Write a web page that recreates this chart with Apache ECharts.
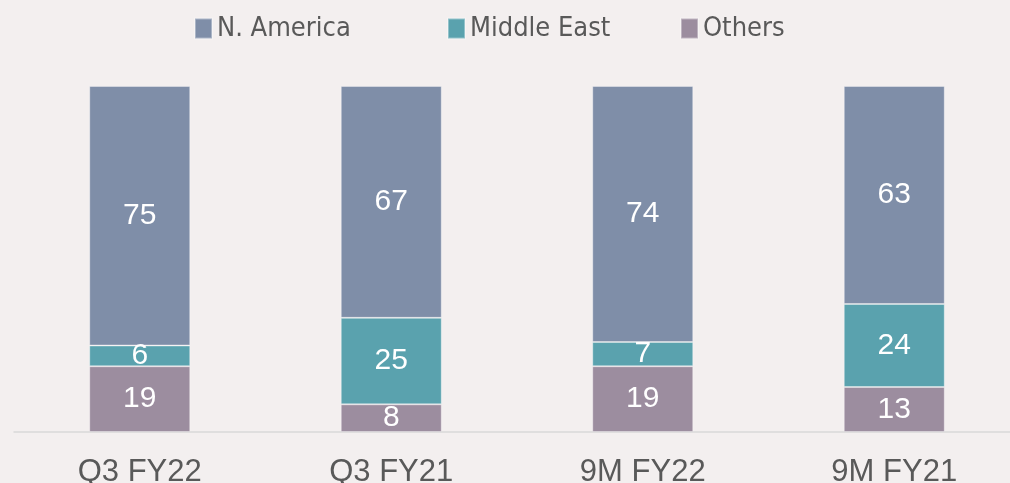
<!DOCTYPE html>
<html>
<head>
<meta charset="utf-8">
<script src="https://cdn.jsdelivr.net/npm/echarts@6/dist/echarts.min.js"></script>
<style>
  html, body { margin: 0; padding: 0; background: #f3efef; }
  #chart { width: 1010px; height: 483px; }
</style>
</head>
<body>
<div id="chart"></div>
<script>
// region split (%) per period
const categories = ['Q3 FY22', 'Q3 FY21', '9M FY22', '9M FY21']
const others = [19, 8, 19, 13]
const middleEast = [6, 25, 7, 24]
const nAmerica = [75, 67, 74, 63]

const colors = {
  nAmerica: '#7f8ea8',
  middleEast: '#5aa2ae',
  others: '#9c8d9f'
}

const chart = echarts.init(document.getElementById('chart'))

// one legend per item, the gaps in the original are uneven
function legendAt(name, left) {
  return {
    data: [name],
    left: left,
    top: 15,
    padding: 0,
    itemWidth: 17,
    itemHeight: 20,
    icon: 'rect',
    selectedMode: false,
    textStyle: {
      fontFamily: 'DejaVu Sans Condensed',
      fontSize: 27,
      color: '#595959'
    }
  }
}

function barSeries(name, data, color) {
  return {
    name: name,
    type: 'bar',
    stack: 'total',
    barWidth: 101,
    data: data,
    itemStyle: {
      color: color,
      borderColor: 'rgba(255,255,255,0.35)',
      borderWidth: 1
    },
    label: {
      show: true,
      position: 'inside',
      color: '#ffffff',
      fontFamily: 'Liberation Sans',
      fontSize: 30
    }
  }
}

chart.setOption({
  backgroundColor: '#f3efef',
  animation: false,
  legend: [
    legendAt('N. America', 194),
    legendAt('Middle East', 447),
    legendAt('Others', 680)
  ],
  grid: {
    left: 14,
    width: 1006,
    top: 86,
    bottom: 51,
    outerBoundsMode: 'none'
  },
  xAxis: {
    type: 'category',
    data: categories,
    axisLine: {
      lineStyle: { color: '#d9d9d9', width: 1.5 }
    },
    axisTick: { show: false },
    axisLabel: {
      color: '#595959',
      fontFamily: 'Liberation Sans',
      fontSize: 31,
      margin: 25
    }
  },
  yAxis: {
    type: 'value',
    min: 0,
    max: 100,
    show: false
  },
  series: [
    barSeries('Others', others, colors.others),
    barSeries('Middle East', middleEast, colors.middleEast),
    barSeries('N. America', nAmerica, colors.nAmerica)
  ]
})
</script>
</body>
</html>
